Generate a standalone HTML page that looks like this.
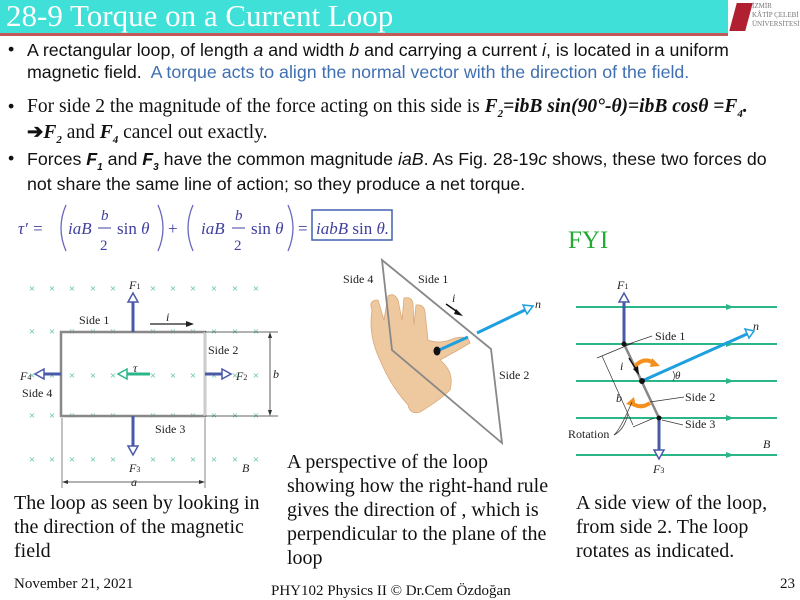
<!DOCTYPE html>
<html><head><meta charset="utf-8"><style>
body{margin:0;width:800px;height:600px;overflow:hidden;background:#fff;position:relative;font-family:"Liberation Serif",serif}
.a{position:absolute;white-space:nowrap}
.s{font-family:"Liberation Sans",sans-serif;font-size:17.8px;color:#111}
.r{font-family:"Liberation Serif",serif;font-size:19.5px;color:#111}
.blu{color:#3f6fb0}
.cap{font-size:20px;line-height:24px;color:#111}
.sb{font-size:11px;position:relative;top:5px;line-height:0}
</style></head><body>
<div class="a" style="left:0;top:0;width:728px;height:33px;background:#3ee0d8;border-bottom:3px solid #c25a5a"></div>
<div class="a" style="left:6px;top:-2px;font-size:31px;color:#fff">28-9 Torque on a Current Loop</div>
<div class="a" style="left:728px;top:0;width:72px;height:34px;background:#fff"></div>
<div class="a" style="left:733px;top:3px;width:16px;height:28px;background:#b02030;transform:skewX(-15deg)"></div>
<div class="a" style="left:752px;top:2px;font-size:7px;line-height:9px;color:#777">İZMİR<br>KÂTİP ÇELEBİ<br>ÜNİVERSİTESİ</div>

<div class="a s" style="left:8px;top:39px">•</div>
<div class="a s" style="left:27px;top:39px;line-height:22px">A rectangular loop, of length <i>a</i> and width <i>b</i> and carrying a current <i>i</i>, is located in a uniform<br>magnetic field.&nbsp; <span class="blu">A torque acts to align the normal vector with the direction of the field.</span></div>
<div class="a s" style="left:8px;top:96px">•</div>
<div class="a r" style="left:27px;top:94px;line-height:26px">For side 2 the magnitude of the force acting on this side is <b><i>F<span class="sb">2</span>=ibB sin(90°-θ)=ibB cosθ =F<span class="sb">4</span>.</i></b><br><b>➔<i>F<span class="sb">2</span></i></b> and <b><i>F<span class="sb">4</span></i></b> cancel out exactly.</div>
<div class="a s" style="left:8px;top:148px">•</div>
<div class="a s" style="left:27px;top:147px;line-height:25px">Forces <b><i>F<span class="sb" style="font-size:10px">1</span></i></b> and <b><i>F<span class="sb" style="font-size:10px">3</span></i></b> have the common magnitude <i>iaB</i>. As Fig. 28-19<i>c</i> shows, these two forces do<br>not share the same line of action; so they produce a net torque.</div>

<svg class="a" style="left:0;top:0" width="800" height="600" xmlns="http://www.w3.org/2000/svg" font-family="Liberation Serif, serif">
<g fill="#4040a0" font-size="17" font-style="italic">
<text x="18" y="234">τ′ =</text>
<g fill="none" stroke="#6868c0" stroke-width="1.3">
<path d="M66 205 Q56 228 66 251"/><path d="M158 205 Q168 228 158 251"/>
<path d="M193 205 Q183 228 193 251"/><path d="M288 205 Q298 228 288 251"/>
</g>
<text x="68" y="234">iaB</text>
<text x="101" y="220" font-size="15">b</text><line x1="98" y1="228" x2="111" y2="228" stroke="#4040a0"/>
<text x="100" y="250" font-size="15" font-style="normal">2</text>
<text x="117" y="234" font-style="normal">sin <tspan font-style="italic">θ</tspan></text>
<text x="168" y="234" font-style="normal">+</text>
<text x="201" y="234">iaB</text>
<text x="235" y="220" font-size="15">b</text><line x1="232" y1="228" x2="245" y2="228" stroke="#4040a0"/>
<text x="234" y="250" font-size="15" font-style="normal">2</text>
<text x="251" y="234" font-style="normal">sin <tspan font-style="italic">θ</tspan></text>
<text x="298" y="234" font-style="normal">=</text>
<rect x="312" y="210" width="80" height="30" fill="none" stroke="#4060b0" stroke-width="1.5"/>
<text x="316" y="234">iabB <tspan font-style="normal">sin</tspan> θ.</text>
</g>
<text x="568" y="248" font-size="25" fill="#22aa33">FYI</text>

<!-- left diagram -->
<g font-size="11" fill="#3cb98f" text-anchor="middle">
<g id="row"><text x="32">×</text><text x="52">×</text><text x="72">×</text><text x="93">×</text><text x="113">×</text><text x="153">×</text><text x="173">×</text><text x="193">×</text><text x="214">×</text><text x="235">×</text><text x="256">×</text></g>
<use href="#row" y="292"/><use href="#row" y="335"/><use href="#row" y="379"/><use href="#row" y="419"/><use href="#row" y="463"/>
</g>
<g fill="none">
<rect x="61" y="332" width="144" height="84" stroke="#888" stroke-width="2.5"/>
<line x1="205" y1="332" x2="205" y2="416" stroke="#ccc" stroke-width="2.5"/>
<line x1="205" y1="332" x2="278" y2="332" stroke="#333" stroke-width=".8"/>
<line x1="205" y1="416" x2="278" y2="416" stroke="#333" stroke-width=".8"/>
<line x1="270" y1="334" x2="270" y2="414" stroke="#333" stroke-width=".8"/>
<line x1="62" y1="418" x2="62" y2="488" stroke="#333" stroke-width=".6"/>
<line x1="205" y1="418" x2="205" y2="488" stroke="#333" stroke-width=".6"/>
<line x1="64" y1="482" x2="203" y2="482" stroke="#333" stroke-width=".8"/>
<g stroke="#4a58a8" stroke-width="3">
<line x1="133" y1="332" x2="133" y2="300"/><line x1="133" y1="416" x2="133" y2="448"/>
<line x1="61" y1="374" x2="42" y2="374"/><line x1="205" y1="374" x2="224" y2="374"/>
</g>
<g stroke="#4a58a8" stroke-width="1.5" fill="#fff">
<path d="M128 302 L133 293 L138 302Z"/><path d="M128 446 L133 455 L138 446Z"/>
<path d="M44 369 L35 374 L44 379Z"/><path d="M222 369 L231 374 L222 379Z"/>
</g>
<line x1="150" y1="374" x2="125" y2="374" stroke="#2bb68a" stroke-width="3"/>
<path d="M127 369 L118 374 L127 379Z" stroke="#2bb68a" stroke-width="1.5" fill="#fff"/>
<line x1="150" y1="324" x2="188" y2="324" stroke="#222" stroke-width="1.2"/>
</g>
<path d="M186 321 L194 324 L186 327Z" fill="#222"/>
<path d="M272 338 L270 332 L268 338Z M272 410 L270 416 L268 410Z M68 480 L62 482 L68 484Z M199 480 L205 482 L199 484Z" fill="#333"/>
<g font-size="12" fill="#222">
<text x="79" y="324">Side 1</text><text x="208" y="354">Side 2</text><text x="22" y="397">Side 4</text><text x="155" y="433">Side 3</text>
<text x="166" y="321" font-style="italic">i</text><text x="133" y="372" font-style="italic">τ</text>
<text x="129" y="289" font-style="italic">F<tspan font-size="8" font-style="normal">1</tspan></text>
<text x="129" y="472" font-style="italic">F<tspan font-size="8" font-style="normal">3</tspan></text>
<text x="20" y="380" font-style="italic">F<tspan font-size="8" font-style="normal">4</tspan></text>
<text x="236" y="380" font-style="italic">F<tspan font-size="8" font-style="normal">2</tspan></text>
<text x="273" y="378" font-style="italic">b</text>
<text x="131" y="486" font-style="italic">a</text>
<text x="242" y="472" font-style="italic">B</text>
</g>

<!-- middle: hand + loop -->
<path d="M372 310 Q368 300 378 300 L384 320 L388 296 Q394 292 398 300 L402 320 L404 298 Q412 296 413 304 L414 325 L416 305 Q424 304 425 312 L428 340 Q440 345 455 338 Q468 335 470 343 Q455 352 440 360 Q455 372 450 390 Q440 400 420 412 Q410 415 408 405 Q390 385 380 360 Q368 335 372 310Z" fill="#eec9a0" stroke="#d9a878" stroke-width=".8"/>
<g stroke="#888" stroke-width="1.8" fill="none">
<path d="M382 260 L392 350 L502 443 L491 349 Z"/>
</g>
<line x1="437" y1="351" x2="468" y2="337" stroke="#1e9fdf" stroke-width="3"/>
<line x1="477" y1="333" x2="525" y2="310" stroke="#1e9fdf" stroke-width="3"/>
<path d="M523 305 L533 306 L527 314Z" fill="#fff" stroke="#1e9fdf" stroke-width="1.5"/>
<ellipse cx="437" cy="351" rx="3.5" ry="4.5" fill="#111"/>
<line x1="446" y1="304" x2="459" y2="313" stroke="#111" stroke-width="1.5"/>
<path d="M456 309 L463 316 L454 314Z" fill="#111"/>
<g font-size="12" fill="#222">
<text x="343" y="283">Side 4</text><text x="418" y="283">Side 1</text><text x="499" y="379">Side 2</text>
<text x="452" y="302" font-style="italic">i</text><text x="535" y="308" font-style="italic">n</text>
</g>

<!-- right side view -->
<g stroke="#2bb68a" stroke-width="2">
<line x1="576" y1="307" x2="777" y2="307"/><line x1="576" y1="344" x2="777" y2="344"/><line x1="576" y1="381" x2="777" y2="381"/><line x1="576" y1="418" x2="777" y2="418"/><line x1="576" y1="455" x2="777" y2="455"/>
</g>
<g fill="#2bb68a"><path d="M726 304 L734 307 L726 310Z"/><path d="M726 341 L734 344 L726 347Z"/><path d="M726 378 L734 381 L726 384Z"/><path d="M726 415 L734 418 L726 421Z"/><path d="M726 452 L734 455 L726 458Z"/></g>
<line x1="624" y1="344" x2="659" y2="418" stroke="#888" stroke-width="2.5"/>
<line x1="624" y1="344" x2="624" y2="300" stroke="#4a58a8" stroke-width="3"/>
<line x1="659" y1="418" x2="659" y2="451" stroke="#4a58a8" stroke-width="3"/>
<path d="M619 302 L624 293 L629 302Z M654 450 L659 459 L664 450Z" fill="#fff" stroke="#4a58a8" stroke-width="1.5"/>
<line x1="642" y1="381" x2="747" y2="334" stroke="#1e9fdf" stroke-width="3"/>
<path d="M745 329 L754 331 L749 338Z" fill="#fff" stroke="#1e9fdf" stroke-width="1.5"/>
<circle cx="624" cy="344" r="2.5" fill="#111"/><circle cx="642" cy="381" r="3" fill="#111"/><circle cx="659" cy="418" r="2.5" fill="#111"/>
<path d="M635 366 Q645 356 655 364" fill="none" stroke="#f5901e" stroke-width="4"/>
<path d="M652 358 L660 366 L650 367Z" fill="#f5901e"/>
<path d="M650 403 Q640 410 630 402" fill="none" stroke="#f5901e" stroke-width="4"/>
<path d="M634 397 L626 404 L636 407Z" fill="#f5901e"/>
<g stroke="#333" stroke-width=".7" fill="none">
<line x1="597" y1="358" x2="633" y2="343"/><line x1="633" y1="427" x2="654" y2="418"/><line x1="602" y1="356" x2="633" y2="425"/>
<path d="M626 345 L652 336"/><path d="M662 420 L683 425"/><path d="M650 402 L684 397"/>
<path d="M614 435 Q620 430 632 402"/><path d="M614 435 Q624 430 628 414"/>
<path d="M673 381 Q676 376 673 371"/>
</g>
<line x1="629" y1="358" x2="637" y2="371" stroke="#111" stroke-width="1.5"/>
<path d="M633 369 L639 375 L638 366Z" fill="#111"/>
<g font-size="12" fill="#222">
<text x="655" y="340">Side 1</text><text x="685" y="401">Side 2</text><text x="685" y="428">Side 3</text><text x="568" y="438">Rotation</text>
<text x="617" y="289" font-style="italic">F<tspan font-size="8" font-style="normal">1</tspan></text>
<text x="653" y="473" font-style="italic">F<tspan font-size="8" font-style="normal">3</tspan></text>
<text x="763" y="448" font-style="italic">B</text><text x="753" y="330" font-style="italic">n</text>
<text x="675" y="379" font-style="italic" font-size="11">θ</text><text x="620" y="370" font-style="italic">i</text><text x="616" y="402" font-style="italic">b</text>
</g>
</svg>

<div class="a cap" style="left:14px;top:491px">The loop as seen by looking in<br>the direction of the magnetic<br>field</div>
<div class="a cap" style="left:287px;top:450px">A perspective of the loop<br>showing how the right-hand rule<br>gives the direction of , which is<br>perpendicular to the plane of the<br>loop</div>
<div class="a cap" style="left:576px;top:491px">A side view of the loop,<br>from side 2. The loop<br>rotates as indicated.</div>
<div class="a" style="left:14px;top:576px;font-size:15px;color:#111">November 21, 2021</div>
<div class="a" style="left:271px;top:583px;font-size:15px;color:#111">PHY102 Physics II © Dr.Cem Özdoğan</div>
<div class="a" style="left:780px;top:576px;font-size:15px;color:#111">23</div>
</body></html>
